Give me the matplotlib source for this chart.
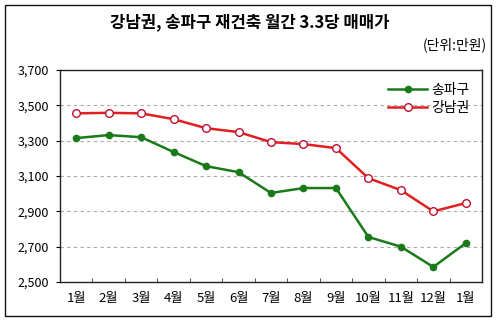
#!/usr/bin/env python3
import matplotlib
matplotlib.use("Agg")
import matplotlib.pyplot as plt
from matplotlib.patches import Rectangle

plt.rcParams["font.family"] = ["Noto Sans CJK KR", "DejaVu Sans"]

months = ["1월", "2월", "3월", "4월", "5월", "6월", "7월", "8월", "9월", "10월", "11월", "12월", "1월"]
songpa = [3315, 3332, 3320, 3236, 3156, 3122, 3004, 3032, 3032, 2755, 2700, 2585, 2720]
gangnam = [3455, 3458, 3455, 3422, 3371, 3349, 3292, 3281, 3258, 3088, 3020, 2900, 2947]
y_ticks = [2500, 2700, 2900, 3100, 3300, 3500, 3700]


def main():
    fig = plt.figure(figsize=(5.0, 3.26), dpi=100)
    ax = fig.add_axes([0.12, 0.135, 0.844, 0.65])

    x = list(range(len(months)))
    ax.plot(x, songpa, color="#1a7a1a", linewidth=1.8, marker="o", markersize=4.5,
            markerfacecolor="#1a7a1a", markeredgecolor="#1a7a1a", label="송파구", zorder=3)
    ax.plot(x, gangnam, color="#e02020", linewidth=1.8, marker="o", markersize=5.5,
            markerfacecolor="white", markeredgecolor="#c01030", markeredgewidth=1.0,
            label="강남권", zorder=3)

    ax.set_xlim(-0.5, len(months) - 0.5)
    ax.set_ylim(2500, 3700)
    ax.set_yticks(y_ticks)
    ax.set_yticklabels([f"{v:,}" for v in y_ticks], fontsize=9)
    ax.set_xticks(x)
    ax.set_xticklabels(months, fontsize=9.5)
    ax.tick_params(axis="x", length=0, pad=7)
    ax.set_xticks([i + 0.5 for i in x[:-1]], minor=True)
    ax.tick_params(axis="x", which="minor", length=3, direction="in", color="#333333")
    ax.tick_params(axis="y", length=3, pad=5)
    for v in y_ticks[1:-1]:
        ax.axhline(v, color="#aaaaaa", linestyle=(0, (3, 3)), linewidth=0.8, zorder=1)
    for s in ax.spines.values():
        s.set_color("#222222")
        s.set_linewidth(1.0)

    ax.legend(loc="upper right", frameon=False, fontsize=10, handlelength=2.8,
              borderaxespad=0.5, labelspacing=0.3, handletextpad=0.3)

    fig.text(0.5, 0.932, "강남권, 송파구 재건축 월간 3.3당 매매가", ha="center", va="center",
             fontsize=12, fontweight="bold")
    fig.text(0.974, 0.862, "(단위:만원)", ha="right", va="center", fontsize=10)

    fig.patches.append(Rectangle((0.01, 0.031), 0.972, 0.954, transform=fig.transFigure,
                                 fill=False, edgecolor="#111111", linewidth=1.0))

    fig.savefig("out.png", dpi=100)
    plt.close(fig)


if __name__ == "__main__":
    main()
